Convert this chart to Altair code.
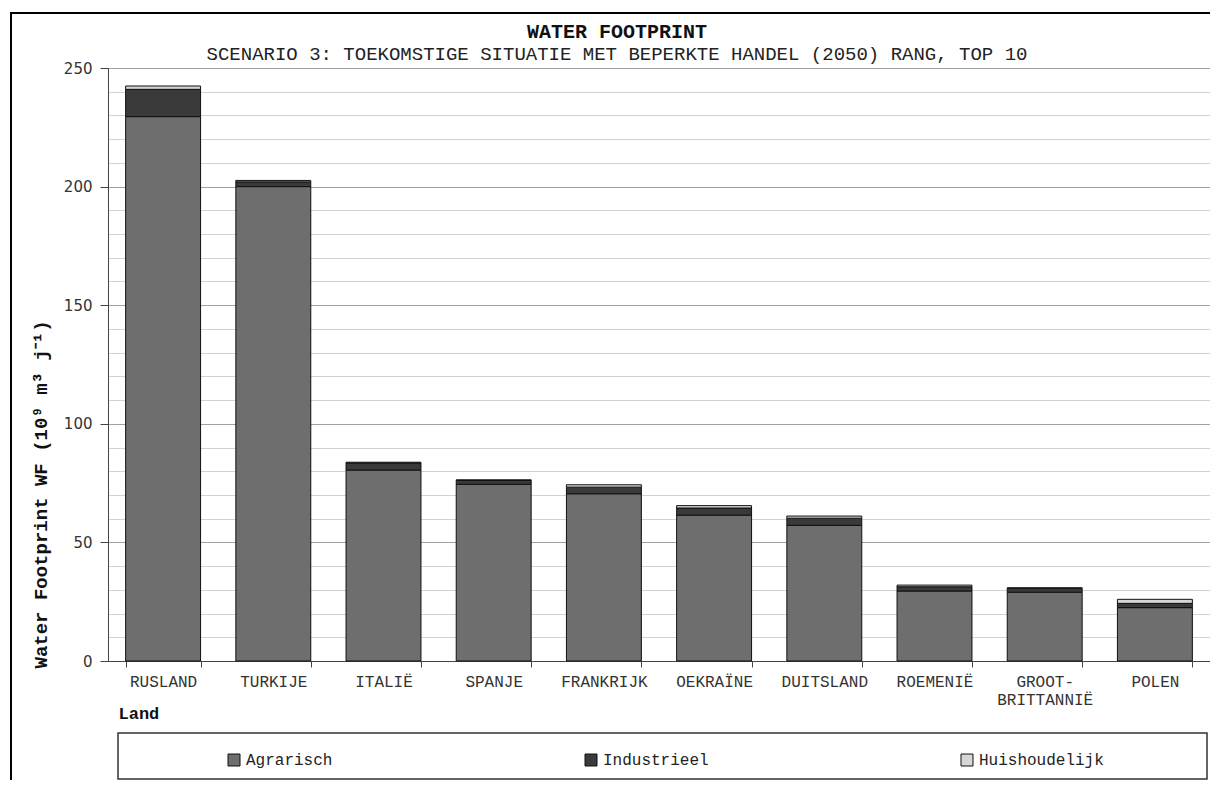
import altair as alt
import pandas as pd

countries = ["RUSLAND", "TURKIJE", "ITALIË", "SPANJE", "FRANKRIJK",
             "OEKRAÏNE", "DUITSLAND", "ROEMENIË", "GROOT-BRITTANNIË", "POLEN"]
agrarisch = [229.5, 200.0, 80.5, 74.5, 70.5, 61.5, 57.2, 29.5, 29.0, 22.5]
industrieel = [11.5, 2.0, 3.0, 1.6, 2.8, 3.0, 3.0, 1.8, 1.6, 1.8]
huishoudelijk = [1.4, 0.6, 0.3, 0.3, 1.0, 1.0, 0.9, 0.7, 0.3, 1.7]
sectors = ["Agrarisch", "Industrieel", "Huishoudelijk"]
sector_colors = ["#6e6e6e", "#3a3a3a", "#d6d6d6"]

rows = []
series = [agrarisch, industrieel, huishoudelijk]
for i, c in enumerate(countries):
    for j, s in enumerate(sectors):
        rows.append({"Land": c, "Sector": s, "Waarde": series[j][i], "Volgorde": j})
df = pd.DataFrame(rows)

W, H = 1102, 593
MONO = "Liberation Mono"
major = "datum.value % 50 === 0"

bars = alt.Chart(df).mark_bar(stroke="#111", strokeWidth=1).encode(
    x=alt.X("Land:N", sort=countries,
            scale=alt.Scale(paddingInner=0.32, paddingOuter=0.16),
            axis=alt.Axis(title="Land", labelAngle=0, labelFont=MONO, labelFontSize=16,
                          labelColor="#333", labelPadding=6, labelLineHeight=18,
                          labelExpr="split(replace(datum.label, '-', '-|'), '|')",
                          tickBand="extent", tickSize=6, tickColor="#444", domainColor="#444",
                          titleFont=MONO, titleFontSize=17, titleFontWeight="bold",
                          titleColor="#111", titleX=10, titleY=52, titleAlign="left",
                          titleBaseline="middle")),
    y=alt.Y("Waarde:Q", stack="zero",
            scale=alt.Scale(domain=[0, 250], nice=False),
            axis=alt.Axis(values=list(range(0, 251, 10)),
                          labelExpr=f"{major} ? datum.label : ''",
                          labelFont="DejaVu Sans", labelFontSize=15, labelColor="#333",
                          labelPadding=8, tickSize=8, tickColor="#444",
                          tickOpacity={"condition": {"test": major, "value": 1}, "value": 0},
                          domainColor="#444", grid=True,
                          gridColor={"condition": {"test": major, "value": "#a0a0a0"}, "value": "#d2d2d2"},
                          title="Water Footprint WF (10⁹ m³ j⁻¹)", titleFont=MONO,
                          titleFontSize=19, titleFontWeight="bold", titleColor="#111",
                          titleAngle=-90, titleX=-68, titleY=600, titleAlign="left",
                          titleBaseline="middle")),
    color=alt.Color("Sector:N", scale=alt.Scale(domain=sectors, range=sector_colors),
                    legend=alt.Legend(title=None, orient="none", legendX=118, legendY=684,
                                      direction="horizontal", columns=3, columnPadding=250,
                                      symbolType="square", symbolSize=144,
                                      symbolStrokeColor="#111", symbolStrokeWidth=1,
                                      labelFont=MONO, labelFontSize=16, labelColor="#222",
                                      labelOffset=4)),
    order=alt.Order("Volgorde:Q", sort="ascending"),
)

frame = alt.Chart(pd.DataFrame({"frame": [1]})).mark_rect(
    fillOpacity=0, stroke="#000", strokeWidth=2
).encode(x=alt.value(-97), x2=alt.value(W + 100), y=alt.value(-55), y2=alt.value(H + 200))

legend_box = alt.Chart(pd.DataFrame({"box": [1]})).mark_rect(
    fillOpacity=0, stroke="#333", strokeWidth=1.5
).encode(x=alt.value(10), x2=alt.value(W - 3), y=alt.value(665), y2=alt.value(711))

chart = alt.layer(frame, legend_box, bars).properties(
    width=W, height=H,
    title=alt.Title("WATER FOOTPRINT",
                    subtitle="SCENARIO 3: TOEKOMSTIGE SITUATIE MET BEPERKTE HANDEL (2050) RANG, TOP 10",
                    font=MONO, fontSize=20, fontWeight="bold", color="#111",
                    subtitleFont=MONO, subtitleFontSize=19, subtitleColor="#222",
                    anchor="middle", frame="group", dx=-42, offset=-52, subtitlePadding=3),
    autosize=alt.AutoSizeParams(type="none"),
    padding={"left": 100, "top": 60, "right": 0, "bottom": 119},
).configure(font=MONO).configure_view(stroke="#555")

chart.save("out.html", embed_options={"renderer": "svg", "actions": False})
